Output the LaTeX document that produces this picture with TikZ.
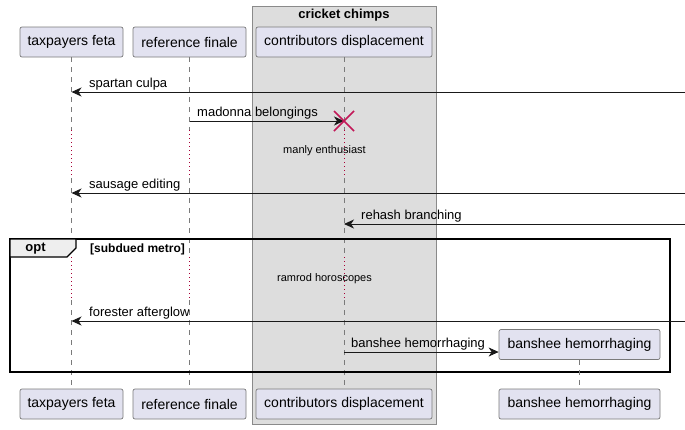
\documentclass[tikz,border=0pt]{standalone}
\usepackage{fontspec}
\setmainfont{Liberation Sans}
\usetikzlibrary{arrows.meta,calc}
\definecolor{partfill}{HTML}{E2E2F0}
\definecolor{partline}{HTML}{7A7A7A}
\definecolor{grpfill}{HTML}{DDDDDD}
\definecolor{grpline}{HTML}{8A8A8A}
\definecolor{delayc}{HTML}{A80036}
\definecolor{killc}{HTML}{C21858}
\definecolor{tabfill}{HTML}{EEEEEE}
\begin{document}
\begin{tikzpicture}[x=1pt,y=-1pt,
  part/.style={draw=partline, fill=partfill, rounded corners=2pt, minimum height=30pt, inner sep=0pt, line width=0.7pt, font=\fontsize{14}{16}\selectfont},
  life/.style={draw=partline, dash pattern=on 5pt off 5pt, line width=0.6pt},
  delayline/.style={draw=delayc, dash pattern=on 1pt off 3pt, line width=0.8pt},
  msg/.style={draw=black!90, line width=0.9pt, -{Stealth[length=10pt,width=9pt,inset=3pt]}},
  lbl/.style={font=\fontsize{13}{15}\selectfont, inner sep=0pt, anchor=base west},
  dlbl/.style={font=\fontsize{11}{13}\selectfont, inner sep=0pt},
  boldlbl/.style={font=\bfseries\fontsize{12}{14}\selectfont, inner sep=0pt}]
\path[fill=white] (0,0) rectangle (685,429);
\useasboundingbox (0,0) rectangle (685,429);

% group box
\draw[draw=grpline, fill=grpfill, line width=0.8pt] (252,6) rectangle (436,424);
\node[font=\bfseries\fontsize{13}{15}\selectfont, inner sep=0pt] (grp) at (344,15) {cricket chimps};

% participants
\node[part, minimum width=103pt] (t1) at (71.5,42) {taxpayers feta};
\node[part, minimum width=113pt] (r1) at (189.5,42) {reference finale};
\node[part, minimum width=176pt] (c1) at (344,42) {contributors displacement};
\node[part, minimum width=103pt] (t2) at (71.5,404) {taxpayers feta};
\node[part, minimum width=113pt] (r2) at (189.5,404) {reference finale};
\node[part, minimum width=176pt] (c2) at (344,404) {contributors displacement};
\node[part, minimum width=161pt] (b2) at (579.5,404) {banshee hemorrhaging};

% delay rows
\coordinate (d1a) at (0,130);
\coordinate (d1b) at (0,178);
\coordinate (d2a) at (0,257);
\coordinate (d2b) at (0,300);

% lifelines
\foreach \a/\b in {t1/t2, r1/r2, c1/c2} {
  \draw[life] (\a.south) -- (\a.south |- d1a);
  \draw[delayline] (\a.south |- d1a) -- (\a.south |- d1b);
  \draw[life] (\a.south |- d1b) -- (\a.south |- d2a);
  \draw[delayline] (\a.south |- d2a) -- (\a.south |- d2b);
  \draw[life] (\a.south |- d2b) -- (\b.north);
}

% opt frame
\draw[black, line width=1.5pt] (10,239) rectangle (670,372);
\draw[black, fill=tabfill, line width=1.2pt] (10,239) -- (76,239) -- (76,248) -- (67,257) -- (10,257) -- cycle;
\node[font=\bfseries\fontsize{13}{15}\selectfont, inner sep=0pt] (optl) at (35.5,249) {opt};
\node[boldlbl, anchor=west] (cond) at (90,249) {[subdued metro]};

% created participant
\node[part, minimum width=161pt] (b1) at (579.5,344.5) {banshee hemorrhaging};
\draw[life] (b1.south) -- (b2.north);

% messages
\coordinate (e1) at (685,92);
\draw[msg] (e1) -- (t1.south |- e1);
\node[lbl] (m1) at (89,87) {spartan culpa};

\coordinate (s2) at (r1.south |- 0,121);
\coordinate (x2) at (c1.south |- 0,121);
\draw[msg] (s2) -- (x2);
\node[lbl] (m2) at (197,116) {madonna belongings};
\draw[killc, line width=1.6pt] ($(x2)+(-10,-10)$) -- ($(x2)+(10,10)$) ($(x2)+(-10,10)$) -- ($(x2)+(10,-10)$);

\node[dlbl] (dl1) at (324.5,151) {manly enthusiast};

\coordinate (e3) at (685,193);
\draw[msg] (e3) -- (t1.south |- e3);
\node[lbl] (m3) at (89,188) {sausage editing};

\coordinate (e4) at (685,224);
\draw[msg] (e4) -- (c1.south |- e4);
\node[lbl] (m4) at (361,219) {rehash branching};

\node[dlbl] (dl2) at (324.5,279) {ramrod horoscopes};

\coordinate (e5) at (685,321);
\draw[msg] (e5) -- (t1.south |- e5);
\node[lbl] (m5) at (89,316) {forester afterglow};

\coordinate (s6) at (c1.south |- 0,352);
\draw[msg] (s6) -- (b1.west |- s6);
\node[lbl] (m6) at (351,347) {banshee hemorrhaging};
\end{tikzpicture}
\end{document}
